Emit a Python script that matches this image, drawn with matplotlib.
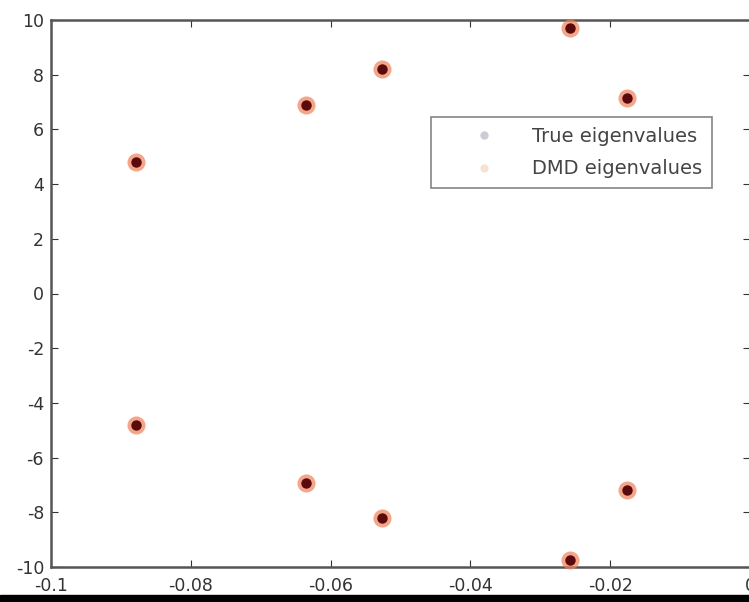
import matplotlib
matplotlib.use("Agg")
import matplotlib.pyplot as plt
from matplotlib.lines import Line2D
from matplotlib.patches import Rectangle

# eigenvalues: real parts and imaginary parts (conjugate pairs)
real_parts = [-0.0878, -0.0635, -0.0526, -0.0258, -0.0176,
              -0.0878, -0.0635, -0.0526, -0.0258, -0.0176]
imag_true = [4.80, 6.90, 8.20, 9.70, 7.15,
             -4.80, -6.93, -8.20, -9.74, -7.18]
imag_dmd = [4.80, 6.90, 8.20, 9.70, 7.15,
            -4.80, -6.93, -8.20, -9.74, -7.18]

x_ticks = [-0.1, -0.08, -0.06, -0.04, -0.02, 0]
x_tick_labels = ["-0.1", "-0.08", "-0.06", "-0.04", "-0.02", "0"]
y_ticks = [-10, -8, -6, -4, -2, 0, 2, 4, 6, 8, 10]

plt.rcParams['font.family'] = ['DejaVu Sans']
plt.rcParams['axes.unicode_minus'] = False

W, H = 749, 602
fig = plt.figure(figsize=(W / 100, H / 100), dpi=100)
fig.patch.set_facecolor('white')

left, right, top, bottom = 51, 750, 20, 567
ax = fig.add_axes([left / W, 1 - bottom / H, (right - left) / W, (bottom - top) / H])

ax.plot(real_parts, imag_dmd, 'o', ms=13, color='#f08058', alpha=0.7,
        mec='none', zorder=3, clip_on=False)
ax.plot(real_parts, imag_true, 'o', ms=7.5, color='#5a0a0a', mec='none',
        zorder=4, clip_on=False)

ax.set_xlim(-0.1, 0)
ax.set_ylim(-10, 10)
ax.set_xticks(x_ticks)
ax.set_xticklabels(x_tick_labels)
ax.set_yticks(y_ticks)
ax.tick_params(direction='in', length=5, width=0.8, labelsize=12.5,
               colors='#333333', top=True, right=True)
ax.tick_params(axis='x', pad=7)
ax.tick_params(axis='y', pad=5)
for s in ax.spines.values():
    s.set_linewidth(1.8)
    s.set_color('#555555')

handles = [
    Line2D([], [], ls='none', marker='o', ms=6, color='#c9ccd2', mec='none'),
    Line2D([], [], ls='none', marker='o', ms=6, color='#f6e2d2', mec='none'),
]
leg = ax.legend(handles, ['True eigenvalues', 'DMD eigenvalues'],
                loc='upper left', bbox_to_anchor=(0.5436, 0.8227),
                borderaxespad=0, fontsize=14, frameon=True, fancybox=False,
                borderpad=0.5, handletextpad=0.2, handlelength=4.5,
                labelspacing=0.7)
leg.get_frame().set_edgecolor('#666666')
leg.get_frame().set_linewidth(1.2)
for t in leg.get_texts():
    t.set_color('#444444')

# dark band along the lower edge of the frame
fig.add_artist(Rectangle((0, 0), 1, 7 / H, transform=fig.transFigure,
                         color='black', zorder=10))

fig.savefig('out.png', dpi=100)
